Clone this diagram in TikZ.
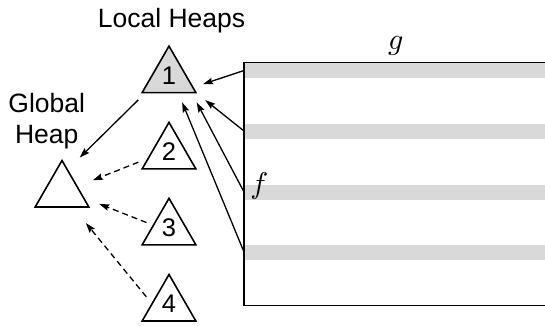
\documentclass[tikz,border=0pt]{standalone}
\usepackage{graphicx}
\usepackage{fontspec}
\setmainfont{Liberation Sans}
\usetikzlibrary{shapes.geometric,arrows.meta,calc}
\newcommand{\heapnum}[1]{\raisebox{3pt}{#1}}
\begin{document}
\begin{tikzpicture}[x=1pt,y=-1pt,
  tri/.style={regular polygon, regular polygon sides=3, minimum size=62pt, draw, line width=1.6pt, inner sep=0pt, outer sep=0pt, font=\fontsize{25.5}{30}\selectfont},
  band/.style={fill=black!15, minimum height=15pt, minimum width=320pt, inner sep=0pt, outer sep=0pt, anchor=west},
  arr/.style={line width=1.3pt, -{Stealth[length=10pt,width=6.5pt,inset=1.5pt]}},
  dsh/.style={arr, dash pattern=on 6pt off 4pt},
  lbl/.style={font=\fontsize{26.5}{31}\selectfont, inner sep=0pt, align=center},
  mlbl/.style={inner sep=0pt}]
\useasboundingbox (0,0) rectangle (545,325);
\clip (0,0) rectangle (545,325);
% memory bands
\node[band] (b1) at (244,70.5) {};
\node[band] (b2) at (244,131) {};
\node[band] (b3) at (244,192) {};
\node[band] (b4) at (244,252) {};
\node[draw, line width=1.3pt, minimum width=330pt, minimum height=243.4pt, anchor=north west, inner sep=0pt, outer sep=0pt] (R) at (244,62.3) {};
\node[mlbl] (gl) at (395.7,46.3) {\scalebox{3}{$g$}};
\node[mlbl] (fl) at (259.3,185.7) {\scalebox{3}{$f$}};
% heaps
\node[tri, fill=black!15] (t1) at (169,77.1) {\heapnum{1}};
\node[tri] (t2) at (169,153.4) {\heapnum{2}};
\node[tri] (t3) at (169,229.3) {\heapnum{3}};
\node[tri] (t4) at (169,305.5) {\heapnum{4}};
\node[tri] (g) at (62,191.5) {};
\node[lbl, anchor=base] (lh) at (171.5,27.5) {Local Heaps};
\node[lbl, anchor=north] (gh) at (46.7,92.7) {Global\\Heap};
% arrows from memory to local heap 1
\draw[arr, shorten >=10.6pt] (b1.west) -- ($(t1.corner 3)!0.11!(t1.corner 1)$);
\draw[arr, shorten >=12pt] (b2.west) -- (t1.corner 3);
\draw[arr, shorten >=11pt] (b3.west) -- ($(t1.corner 2)!0.92!(t1.corner 3)$);
\draw[arr, shorten >=10.5pt] (b4.west) -- ($(t1.corner 2)!0.67!(t1.corner 3)$);
% local heaps to global heap
\draw[arr, shorten <=10.3pt, shorten >=17.4pt] ($(t1.corner 2)!0.065!(t1.corner 3)$) -- ($(g.corner 1)!0.2!(g.corner 3)$);
\draw[dsh, shorten <=10.7pt, shorten >=17pt] ($(t2.corner 2)!0.23!(t2.corner 1)$) -- ($(g.corner 1)!0.56!(g.corner 3)$);
\draw[dsh, shorten <=7.5pt, shorten >=17pt] ($(t3.corner 2)!0.42!(t3.corner 1)$) -- ($(g.corner 1)!0.8!(g.corner 3)$);
\draw[dsh, shorten <=9.1pt, shorten >=20.7pt] ($(t4.corner 2)!0.37!(t4.corner 1)$) -- ($(g.corner 2)!0.7!(g.corner 3)$);
\end{tikzpicture}
\end{document}
